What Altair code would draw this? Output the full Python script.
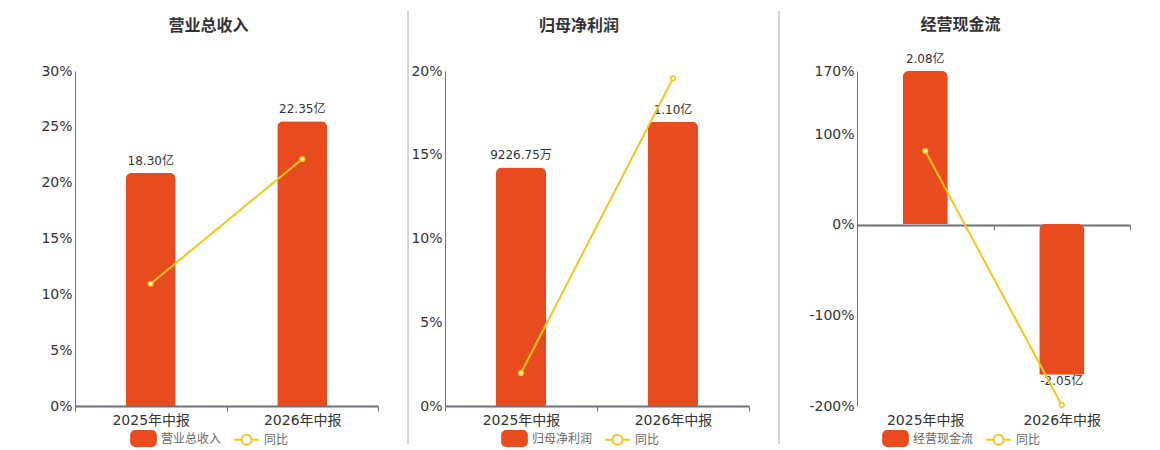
import altair as alt
import pandas as pd

periods = ["2025年中报", "2026年中报"]

revenue = [18.30, 22.35]  # 亿
revenue_labels = ["18.30亿", "22.35亿"]
revenue_yoy = [10.95, 22.12]  # %

profit = [0.922675, 1.10]  # 亿
profit_labels = ["9226.75万", "1.10亿"]
profit_yoy = [1.97, 19.56]

cashflow = [2.08, -2.05]  # 亿
cashflow_labels = ["2.08亿", "-2.05亿"]
cashflow_yoy = [81.8, -199.0]

BAR = "#E84C1E"
LINE = "#F5C518"
FONT = "'DejaVu Sans', 'Noto Sans CJK SC', sans-serif"

# legend symbols: rounded rect for bars, line with ring for 同比
RECT_PATH = ("M-1.3,-1.15 H1.3 A0.6,0.6 0 0 1 1.9,-0.55 V0.55 A0.6,0.6 0 0 1 1.3,1.15 "
             "H-1.3 A0.6,0.6 0 0 1 -1.9,0.55 V-0.55 A0.6,0.6 0 0 1 -1.3,-1.15 Z")
RING_PATH = ("M-1.9,0 H-0.77 A0.77,0.77 0 1 1 0.77,0 A0.77,0.77 0 1 1 -0.77,0 "
             "M0.77,0 H1.9")

HEIGHT = 335


def panel(title, name, values, labels, yoy, bar_domain, pct_domain, pct_ticks,
          width, title_dx, title_offset, legend_x, min_extent, separator, zero_line):
    df = pd.DataFrame({"period": periods, "value": values, "label": labels, "yoy": yoy})
    base = alt.Chart(df)

    xscale = alt.Scale(paddingInner=0, paddingOuter=0)
    x = alt.X("period:N", sort=periods, title=None, scale=xscale,
              axis=alt.Axis(orient="bottom", labelAngle=0, tickBand="extent",
                            domain=not zero_line, tickOpacity=0 if zero_line else 1))
    # in the cash-flow panel the axes are resolved independently, so the bars carry none
    x_bar = alt.X("period:N", sort=periods, title=None, scale=xscale, axis=None) if zero_line else x

    ybar = alt.Y("value:Q", scale=alt.Scale(domain=bar_domain, nice=False, zero=False), axis=None)
    bars = base.mark_bar(color=BAR, width=alt.RelativeBandSize(0.33), cornerRadiusEnd=6).encode(
        x=x_bar, y=ybar)
    text_pos = base.transform_filter("datum.value >= 0").mark_text(
        baseline="bottom", dy=-5, fontSize=12, color="#333", font=FONT).encode(
        x=x_bar, y=ybar, text="label:N")
    text_neg = base.transform_filter("datum.value < 0").mark_text(
        baseline="top", dy=1, fontSize=12, color="#333", font=FONT).encode(
        x=x_bar, y=ybar, text="label:N")

    pscale = alt.Scale(domain=pct_domain, nice=False, zero=False)
    ypct = alt.Y("yoy:Q", title=None, scale=pscale,
                 axis=alt.Axis(orient="left", values=pct_ticks, labelExpr="datum.value + '%'",
                               minExtent=min_extent))
    line = base.mark_line(color=LINE, strokeWidth=2).encode(x=x, y=ypct)
    points = base.mark_point(filled=True, fill="white", stroke=LINE, strokeWidth=1.5,
                             size=22, opacity=1).encode(x=x, y=ypct)

    dom = [name, "同比"]
    leg = alt.Legend(title=None, orient="none", legendX=legend_x, legendY=360,
                     direction="horizontal", columns=2, symbolSize=169, symbolStrokeWidth=2,
                     labelFont=FONT, labelFontSize=12, labelColor="#666",
                     labelOffset=10, columnPadding=8)
    legend_layer = base.transform_calculate(series="'同比'").transform_filter("false").mark_point(
        filled=True, opacity=1).encode(
        x=x, y=ypct,
        fill=alt.Fill("series:N", scale=alt.Scale(domain=dom, range=[BAR, "white"]), legend=leg),
        stroke=alt.Stroke("series:N", scale=alt.Scale(domain=dom, range=[BAR, LINE]), legend=leg),
        shape=alt.Shape("series:N", scale=alt.Scale(domain=dom, range=[RECT_PATH, RING_PATH]),
                        legend=leg),
    )

    layers = [alt.layer(bars, text_pos, text_neg)]
    if zero_line:
        # x axis line with ticks drawn through the 0% level
        zero_px = HEIGHT * (0 - pct_domain[0]) / (pct_domain[1] - pct_domain[0])
        x_zero = alt.X("period:N", sort=periods, title=None, scale=xscale,
                       axis=alt.Axis(orient="bottom", labels=False, tickBand="extent",
                                     offset=-zero_px, domainWidth=2, tickOpacity=1))
        layers.append(base.mark_point(opacity=0).encode(
            x=x_zero, y=alt.Y("yoy:Q", scale=pscale, axis=None)))
    layers.append(alt.layer(line, points, legend_layer))
    if separator:
        sep = alt.Chart(pd.DataFrame({"s": [0]})).mark_rule(color="#A8A8A8", strokeWidth=1).encode(
            x=alt.value(width + 30), y=alt.value(-60), y2=alt.value(373))
        layers.append(sep)

    combined = alt.layer(*layers).resolve_scale(y="independent")
    if zero_line:
        combined = combined.resolve_axis(x="independent")
    return combined.properties(
        width=width, height=HEIGHT,
        title=alt.Title(title, fontSize=16, fontWeight="bold", color="#333", font=FONT,
                        frame="group", dx=title_dx, offset=title_offset),
    )


p1 = panel("营业总收入", "营业总收入", revenue, revenue_labels, revenue_yoy,
           [0, 26.3], [0, 30], [0, 5, 10, 15, 20, 25, 30],
           303, -18, -23, 61, 30, True, False)
p2 = panel("归母净利润", "归母净利润", profit, profit_labels, profit_yoy,
           [0, 1.296], [0, 20], [0, 5, 10, 15, 20],
           304, -18, -23, 62, 36, True, False)
p3 = panel("经营现金流", "经营现金流", cashflow, cashflow_labels, cashflow_yoy,
           [-2.474, 2.08], [-200, 170], [-200, -100, 0, 100, 170],
           273, -33, 20, 31, 77, False, True)

chart = alt.hconcat(p1, p2, p3, spacing=0).resolve_scale(
    y="independent", fill="independent", stroke="independent", shape="independent"
).resolve_legend(
    fill="independent", stroke="independent", shape="independent"
).properties(
    padding={"left": 32, "top": 2, "right": 5, "bottom": 5}
).configure_view(strokeWidth=0).configure_axis(
    labelFont=FONT, labelFontSize=14, labelColor="#333",
    domainColor="#6E7079", tickColor="#6E7079",
    gridColor="#E0E6F1", ticks=False, labelPadding=3,
).configure_axisX(
    grid=False, ticks=True, tickSize=5, domainWidth=2, labelPadding=2,
).configure_axisY(
    grid=True, domainWidth=1,
)

chart.save("out.html", embed_options={"renderer": "svg", "actions": False})
